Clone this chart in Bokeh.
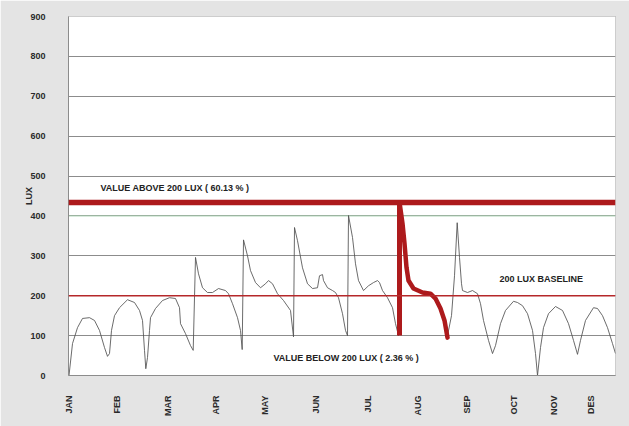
import math
from bokeh.plotting import figure
from bokeh.models import Label, Span, FixedTicker, Range1d, BoxAnnotation
from bokeh.embed import file_html
from bokeh.resources import INLINE

# ---- data ----
month_labels = ["JAN", "FEB", "MAR", "APR", "MAY", "JUN", "JUL", "AUG", "SEP", "OCT", "NOV", "DES"]
month_pos = [0, 48, 99, 147, 196, 247, 299, 349, 398, 445, 485, 522]

sample_x = [0.5, 4, 9, 14, 21, 26, 31, 36, 39, 41, 43, 46, 51, 59, 66, 71, 74, 76, 77.3, 79, 81, 82,
            87, 94, 101, 107, 111, 112, 117, 122, 124.7, 127,
            130, 134, 139, 144, 150, 157, 160, 164, 169, 172, 173.7, 175, 179, 182, 187, 192, 197,
            200, 204, 209, 215, 222, 225, 226, 229, 234, 239, 244, 249, 251, 254, 255, 259, 264,
            267, 270, 274, 277, 279, 280, 284, 287, 290, 295, 300, 305, 309, 311, 314, 319, 324,
            327, 330, 331, 334, 336, 338, 340, 345, 354, 362, 367, 372, 376, 379, 383, 386, 388.7,
            391, 393, 394, 399, 404, 409, 412, 415, 420, 424, 427, 432, 437, 445, 449, 454, 459,
            464, 467, 469, 472, 475, 480, 487, 494, 500, 505, 509, 512, 517, 525, 529, 534, 539,
            544, 547]
lux = [0, 80, 120, 143, 145, 138, 113, 70, 48, 55, 113, 150, 170, 190, 183, 163, 138, 63, 17, 45, 113, 145,
       168, 188, 195, 193, 170, 130, 105, 75, 63, 296,
       255, 220, 208, 208, 218, 213, 205, 180, 145, 113, 65, 340, 300, 263, 233, 220, 230,
       238, 230, 205, 188, 163, 97, 371, 338, 270, 230, 218, 220, 250, 253, 238, 220, 213,
       208, 195, 155, 113, 100, 401, 346, 280, 238, 213, 225, 233, 238, 233, 213, 195, 170,
       130, 100, 434, 381, 331, 271, 238, 218, 208, 205, 193, 168, 138, 100, 150, 250, 383,
       296, 230, 213, 208, 213, 205, 180, 138, 88, 55, 75, 130, 163, 186, 183, 175, 155,
       113, 55, 0, 70, 120, 155, 173, 163, 130, 88, 53, 88, 138, 170, 168, 150,
       120, 80, 55]

highlight_x = [331, 334, 336, 338, 340, 345, 354, 362, 367, 372, 376, 379]
highlight_lux = [434, 381, 331, 271, 238, 218, 208, 205, 193, 168, 138, 95]
highlight_vx = 331
highlight_vlow = 100

above_level = 434
baseline_level = 200
green_grid_level = 400
y_ticks = [0, 100, 200, 300, 400, 500, 600, 700, 800, 900]

FONT = "Liberation Sans"
RED = "#ad1a1c"
GREY_FRAME = "#e4e4e4"
W, H = 629, 426

p = figure(width=W, height=H, x_range=Range1d(0, 547), y_range=Range1d(0, 900),
           output_backend="svg", toolbar_location=None,
           min_border_left=68, min_border_right=14, min_border_top=16, min_border_bottom=51,
           background_fill_color="white", border_fill_color=GREY_FRAME,
           outline_line_color="#9a9a9a", outline_line_width=1)

# white panel inside the grey picture frame, and white strip above it
canvas_units = dict(left_units="canvas", right_units="canvas", top_units="canvas", bottom_units="canvas")
p.add_layout(BoxAnnotation(left=12, right=W, top=12, bottom=421, fill_color="white", fill_alpha=1,
                           line_color=None, level="image", **canvas_units))
p.add_layout(BoxAnnotation(left=0, right=W, top=0, bottom=5, fill_color="white", fill_alpha=1,
                           line_color=None, level="image", **canvas_units))

p.xgrid.visible = False
p.ygrid.ticker = FixedTicker(ticks=y_ticks)
p.ygrid.grid_line_color = "#8c8c8c"
p.ygrid.grid_line_width = 1

p.yaxis.ticker = FixedTicker(ticks=y_ticks)
p.xaxis.ticker = FixedTicker(ticks=month_pos)
p.xaxis.major_label_overrides = {pos: lab for pos, lab in zip(month_pos, month_labels)}
p.xaxis.major_label_orientation = math.pi / 2
p.xaxis.major_label_standoff = 20
p.yaxis.major_label_standoff = 23
p.yaxis.major_label_text_align = "center"

for ax in (p.xaxis[0], p.yaxis[0]):
    ax.major_tick_line_color = None
    ax.minor_tick_line_color = None
    ax.major_tick_out = 0
    ax.major_tick_in = 0
    ax.minor_tick_out = 0
    ax.minor_tick_in = 0
    ax.axis_line_color = "#8c8c8c"
    ax.major_label_text_font = FONT
    ax.major_label_text_font_style = "bold"
    ax.major_label_text_font_size = "9px"
    ax.major_label_text_color = "#2a2a2a"

p.yaxis.axis_label = "LUX"
p.yaxis.axis_label_text_font = FONT
p.yaxis.axis_label_text_font_style = "bold"
p.yaxis.axis_label_text_font_size = "9px"
p.yaxis.axis_label_text_color = "#2a2a2a"
p.yaxis.axis_label_standoff = -7

p.add_layout(Span(location=green_grid_level, dimension="width", line_color="#a9d4b2", line_width=1, level="underlay"))

p.line(sample_x, lux, line_color="#505050", line_width=0.85)

p.add_layout(Span(location=baseline_level, dimension="width", line_color="#b5282a", line_width=1.4))
p.add_layout(Span(location=above_level, dimension="width", line_color=RED, line_width=5.5))
p.segment(x0=[highlight_vx], y0=[highlight_vlow], x1=[highlight_vx], y1=[above_level],
          line_color=RED, line_width=5)
p.line(highlight_x, highlight_lux, line_color=RED, line_width=4.5, line_join="round", line_cap="round")

lab_kw = dict(text_font=FONT, text_font_style="bold", text_font_size="9px",
              text_color="#222222", text_baseline="middle")
p.add_layout(Label(x=32, y=469, text="VALUE ABOVE 200 LUX ( 60.13 % )", **lab_kw))
p.add_layout(Label(x=431, y=241, text="200 LUX BASELINE", **lab_kw))
p.add_layout(Label(x=205, y=43, text="VALUE BELOW 200 LUX ( 2.36 % )", **lab_kw))

open("out.html", "w").write(file_html(p, INLINE))
